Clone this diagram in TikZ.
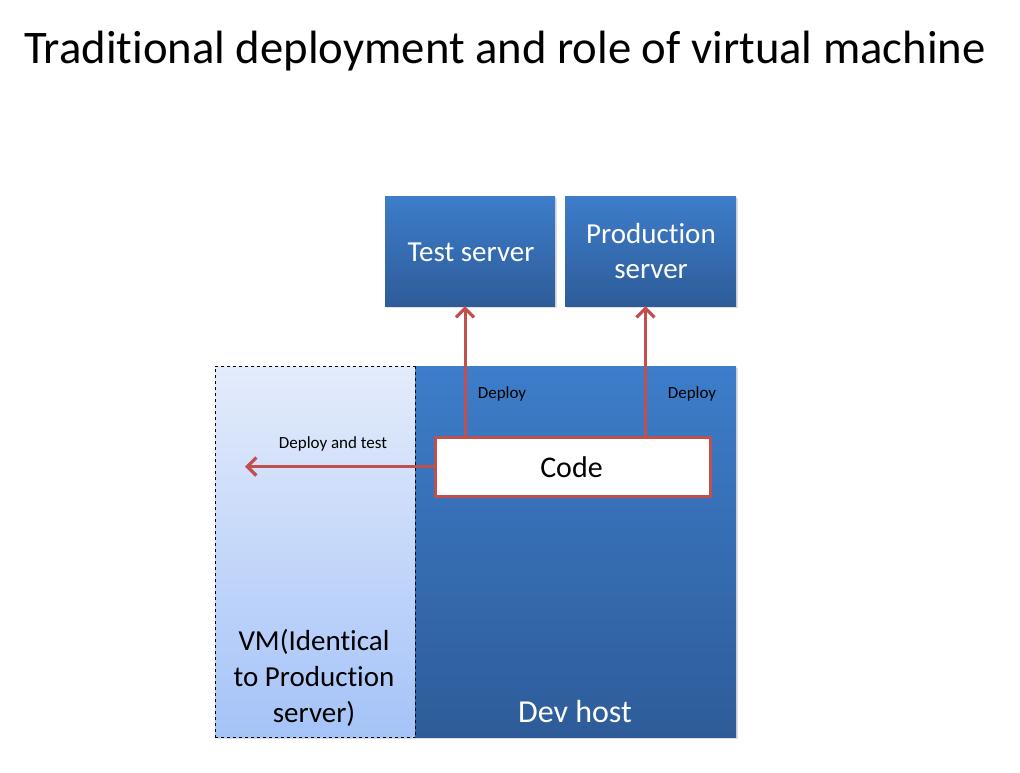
\documentclass[tikz,border=0pt]{standalone}
\usepackage{fontspec}
\setmainfont{Carlito}[Ligatures=NoCommon]
\usetikzlibrary{calc, arrows.meta, shadows}
\definecolor{boxtop}{HTML}{3D7DCA}
\definecolor{boxbottom}{HTML}{2E5C99}
\definecolor{vmtop}{HTML}{E4ECFB}
\definecolor{vmbottom}{HTML}{A5C3F8}
\definecolor{arrowred}{HTML}{C0504D}
\tikzset{
    bluebox/.style={rectangle, inner sep=0pt, top color=boxtop, bottom color=boxbottom,
        drop shadow={shadow xshift=2pt, shadow yshift=-2pt, opacity=0.25}},
    deployarrow/.style={arrowred, line width=3pt,
        -{Straight Barb[length=9pt, width=18pt, line width=3.2pt]}},
}
\begin{document}
\begin{tikzpicture}[x=1pt, y=-1pt]
    \useasboundingbox[fill=white] (0,0) rectangle (1020,772);
    \node[anchor=base] (title) at (505,63) {\fontsize{46.7}{56}\selectfont Traditional deployment and role of virtual machine};

    % hosts
    \node[rectangle, inner sep=0pt, minimum width=200pt, minimum height=371pt,
        top color=vmtop, bottom color=vmbottom, draw=black, thin, dashed,
        drop shadow={shadow xshift=2pt, shadow yshift=-2pt, opacity=0.25}] (vm) at (315,551.5) {};
    \node[bluebox, minimum width=321pt, minimum height=371pt] (devhost) at (575.5,551.5) {};
    \draw[black, thin, dashed] (vm.north east) -- (vm.south east);

    % servers
    \node[bluebox, minimum width=170pt, minimum height=110pt] (testsrv) at (470,251) {};
    \node[bluebox, minimum width=171pt, minimum height=110pt] (prodsrv) at (650.5,251) {};
    \node[white, anchor=base] (testlabel) at (471,261) {\fontsize{29}{35}\selectfont Test server};
    \node[white, anchor=base] (prodlabel1) at (651,243) {\fontsize{29}{35}\selectfont Production};
    \node[white, anchor=base] (prodlabel2) at (651,278) {\fontsize{29}{35}\selectfont server};

    \node[rectangle, inner sep=0pt, minimum width=275pt, minimum height=59pt,
        fill=white, draw=arrowred, line width=3pt] (code) at (572.5,466.5) {};
    \node[anchor=base] (codelabel) at (571.5,477.5) {\fontsize{30}{36}\selectfont Code};

    \node[white, anchor=base] (devlabel) at (575,722) {\fontsize{32}{38}\selectfont Dev host};
    \node[anchor=base] (vmlabel1) at (314,650) {\fontsize{29}{35}\selectfont VM(Identical};
    \node[anchor=base] (vmlabel2) at (314,686.5) {\fontsize{29}{35}\selectfont to Production};
    \node[anchor=base] (vmlabel3) at (314,722.5) {\fontsize{29}{35}\selectfont server)};

    % deploy arrows
    \coordinate (vmend) at (245,466.5);
    \draw[deployarrow] ($(code.north -| testsrv.south)+(-5,0)$) -- ($(testsrv.south)+(-5,0)$);
    \draw[deployarrow] ($(code.north -| prodsrv.south)+(-5,0)$) -- ($(prodsrv.south)+(-5,0)$);
    \draw[deployarrow] (code.west) -- (vmend);

    \node[anchor=base] (deploy1) at (502,398) {\fontsize{17}{20}\selectfont Deploy};
    \node[anchor=base] (deploy2) at (692,398) {\fontsize{17}{20}\selectfont Deploy};
    \node[anchor=base] (deploytest) at (333,448) {\fontsize{17}{20}\selectfont Deploy and test};
\end{tikzpicture}
\end{document}
